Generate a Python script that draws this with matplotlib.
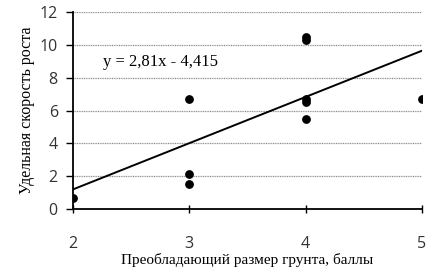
import numpy as np
import matplotlib.pyplot as plt

grain_size = [2, 3, 3, 3, 4, 4, 4, 4, 4, 5]
growth_rate = [0.67, 6.7, 2.15, 1.5, 10.45, 10.3, 6.7, 6.5, 5.5, 6.7]
slope = 2.81
intercept = -4.415
x_ticks = [2, 3, 4, 5]
y_ticks = [0, 2, 4, 6, 8, 10, 12]

fig = plt.figure(figsize=(4.38, 2.77), dpi=100)
ax = fig.add_axes([0.167, 0.245, 0.796, 0.712])

ax.scatter(grain_size, growth_rate, s=28, color='black', zorder=3)
xl = np.array([2, 5])
ax.plot(xl, slope * xl + intercept, color='black', lw=1.4, zorder=2)

ax.set_xlim(2, 5)
ax.set_ylim(0, 12)
ax.set_xticks(x_ticks)
ax.set_yticks(y_ticks)
for y in y_ticks[1:]:
    ax.axhline(y, color='#8c8c8c', lw=0.9, ls=(0, (0.8, 0.6)), zorder=1)

for s in ['top', 'right']:
    ax.spines[s].set_visible(False)
for s in ['left', 'bottom']:
    ax.spines[s].set_linewidth(1.3)
    ax.spines[s].set_zorder(4)
ax.tick_params(axis='x', direction='inout', length=6, width=1, pad=16, labelsize=11.5)
ax.tick_params(axis='y', direction='out', length=5, width=1, pad=6, labelsize=11.5)
for lab in ax.get_xticklabels() + ax.get_yticklabels():
    lab.set_family('Open Sans')
    lab.set_color('#333333')

ax.text(2.26, 8.96, 'y = 2,81x - 4,415', family='Liberation Serif', fontsize=12, va='center')
ax.set_xlabel('Преобладающий размер грунта, баллы', family='Liberation Serif', fontsize=11, labelpad=1)
ax.set_ylabel('Удельная скорость роста', family='Liberation Serif', fontsize=11.5, labelpad=3)

fig.savefig('out.png', dpi=100)
